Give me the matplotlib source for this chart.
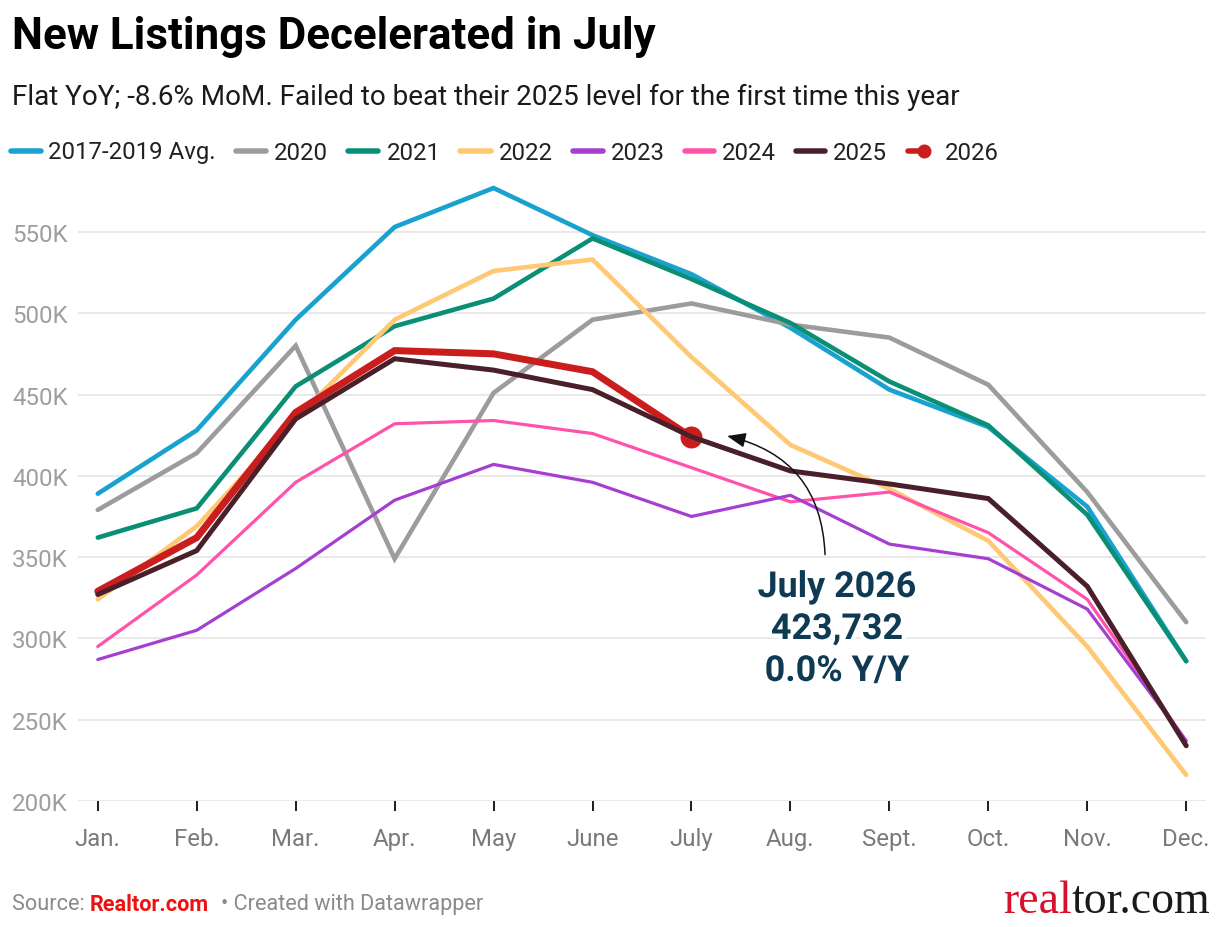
import matplotlib
matplotlib.use("Agg")
import matplotlib.pyplot as plt
from matplotlib.lines import Line2D
import matplotlib.patheffects as pe

plt.rcParams['font.family'] = ['Roboto', 'DejaVu Sans']

months = ["Jan.", "Feb.", "Mar.", "Apr.", "May", "June", "July", "Aug.", "Sept.", "Oct.", "Nov.", "Dec."]

avg_2017_2019 = [389, 428, 496, 553, 577, 548, 524, 491, 453, 430, 381, 286]
y2020 = [379, 414, 480, 349, 451, 496, 506, 493, 485, 456, 390, 310]
y2021 = [362, 380, 455, 492, 509, 546, 521, 494, 458, 431, 376, 286]
y2022 = [324, 369, 435, 496, 526, 533, 473, 419, 392, 360, 295, 216]
y2023 = [287, 305, 343, 385, 407, 396, 375, 388, 358, 349, 318, 237]
y2024 = [295, 339, 396, 432, 434, 426, 405, 384, 390, 365, 324, 237]
y2025 = [327, 354, 435, 472, 465, 453, 424, 403, 395, 386, 332, 234]
y2026 = [329, 362, 439, 477, 475, 464, 423.732]

yticks = [200, 250, 300, 350, 400, 450, 500, 550]
ytick_labels = ["200K", "250K", "300K", "350K", "400K", "450K", "500K", "550K"]

series = [
    ("2017-2019 Avg.", avg_2017_2019, "#19a2cf", 4.6, 2),
    ("2020", y2020, "#9c9c9c", 4.6, 2),
    ("2021", y2021, "#0a8f76", 4.6, 3),
    ("2022", y2022, "#ffc874", 4.6, 3),
    ("2023", y2023, "#a53fd2", 3.2, 4),
    ("2024", y2024, "#ff52aa", 3.2, 3.5),
    ("2025", y2025, "#49202a", 5.0, 6),
]
red = "#c91e1d"

W, H = 1220, 928
fig = plt.figure(figsize=(W / 100, H / 100), dpi=100)
fig.patch.set_facecolor("white")

def fx(px):
    return px / W

def fy(py):
    return 1 - py / H

ax_left, ax_right = 78, 1206
ax_top, ax_bot = 176, 802
ax = fig.add_axes([fx(ax_left), fy(ax_bot), (ax_right - ax_left) / W, (ax_bot - ax_top) / H])
ax.set_facecolor("white")

x = list(range(12))
px2pt = 0.72
for name, vals, col, lw, z in series:
    ax.plot(x[:len(vals)], vals, color=col, lw=lw * px2pt, solid_capstyle="round",
            solid_joinstyle="miter", zorder=z)
ax.plot(x[:len(y2026)], y2026, color=red, lw=7 * px2pt, solid_capstyle="round",
        solid_joinstyle="miter", zorder=5)
ax.plot([x[len(y2026) - 1]], [y2026[-1]], "o", color=red, ms=22 * px2pt, mew=0, zorder=5)

ax.set_xlim(-0.2, 11.2)
ax.set_ylim(200, 585)
ax.set_yticks(yticks)
ax.set_yticklabels(ytick_labels)
ax.set_xticks(x)
ax.set_xticklabels(months)
for s in ax.spines.values():
    s.set_visible(False)
ax.grid(axis="y", color="#e3e3e3", lw=1.5 * px2pt, zorder=0)
ax.set_axisbelow(True)
ax.tick_params(axis="y", length=0, pad=0, labelsize=17.4, labelcolor="#9e9e9e")
ax.tick_params(axis="x", length=10 * px2pt, width=2 * px2pt, color="#222222", pad=11.5,
               labelsize=17.3, labelcolor="#7a7a7a", direction="out")
for lab in ax.get_yticklabels():
    lab.set_horizontalalignment("left")
    lab.set_transform(ax.get_yaxis_transform())
    lab.set_x(-(ax_left - 12) / (ax_right - ax_left))

# annotation
ann_col = "#0e3a53"
ax.annotate("", xy=(6.36, 424.5), xytext=(7.35, 351.5),
            arrowprops=dict(arrowstyle="-|>,head_length=0.75,head_width=0.3", color="#111111",
                            lw=1.5 * px2pt, connectionstyle="arc3,rad=0.38",
                            shrinkA=0, shrinkB=0, mutation_scale=15), zorder=7)
for txt, py in [("July 2026", 588), ("423,732", 630), ("0.0% Y/Y", 672)]:
    fig.text(fx(837), fy(py), txt, ha="center", va="center", fontsize=25.8, fontweight="bold",
             color=ann_col, path_effects=[pe.withStroke(linewidth=6, foreground="white")], zorder=8)

# title and subtitle
fig.text(fx(12), fy(37), "New Listings Decelerated in July", ha="left", va="center",
         fontsize=31.6, fontweight="bold", color="#000000")
fig.text(fx(12), fy(97), "Flat YoY; -8.6% MoM. Failed to beat their 2025 level for the first time this year",
         ha="left", va="center", fontsize=20.1, color="#1a1a1a")

# legend (manual)
leg_y = 152
entries = [
    ("2017-2019 Avg.", "#19a2cf", 11, 41, 48),
    ("2020", "#9c9c9c", 236, 266, 274),
    ("2021", "#0a8f76", 348, 378, 387),
    ("2022", "#ffc874", 460, 491, 499),
    ("2023", "#a53fd2", 573, 603, 611),
    ("2024", "#ff52aa", 685, 714, 722),
    ("2025", "#49202a", 796, 825, 833),
]
for lab, col, x0, x1, tx in entries:
    fig.add_artist(Line2D([fx(x0), fx(x1)], [fy(leg_y), fy(leg_y)], color=col, lw=5.5 * px2pt,
                          solid_capstyle="round", transform=fig.transFigure))
    fig.text(fx(tx), fy(leg_y + 1), lab, ha="left", va="center", fontsize=17.3, color="#222222")
fig.add_artist(Line2D([fx(908), fx(924)], [fy(leg_y), fy(leg_y)], color=red, lw=5.5 * px2pt,
                      solid_capstyle="round", transform=fig.transFigure))
fig.add_artist(Line2D([fx(924)], [fy(leg_y)], marker="o", color=red, ms=14 * px2pt, mew=0,
                      transform=fig.transFigure))
fig.text(fx(945), fy(leg_y + 1), "2026", ha="left", va="center", fontsize=17.3, color="#222222")

# footer
fig.canvas.draw()
renderer = fig.canvas.get_renderer()
foot_y = fy(905)
t1 = fig.text(fx(12), foot_y, "Source: ", ha="left", va="center", fontsize=15.6, color="#8a8a8a")
bb = t1.get_window_extent(renderer)
t2 = fig.text(bb.x1 / W, foot_y, "Realtor.com", ha="left", va="center", fontsize=15.6,
              fontweight="bold", color="#ee1111")
bb = t2.get_window_extent(renderer)
fig.text(bb.x1 / W + fx(12), foot_y, "\u2022 Created with Datawrapper", ha="left", va="center",
         fontsize=15.6, color="#8a8a8a")

# logo
l1 = fig.text(fx(1003), fy(913), "real", ha="left", va="baseline", fontsize=33,
              family="Liberation Serif", color="#d6112e")
bb = l1.get_window_extent(renderer)
fig.text(bb.x1 / W, fy(913), "tor.com", ha="left", va="baseline", fontsize=33,
         family="Liberation Serif", color="#1a1a1a")

fig.savefig("out.png", dpi=100, facecolor="white")
